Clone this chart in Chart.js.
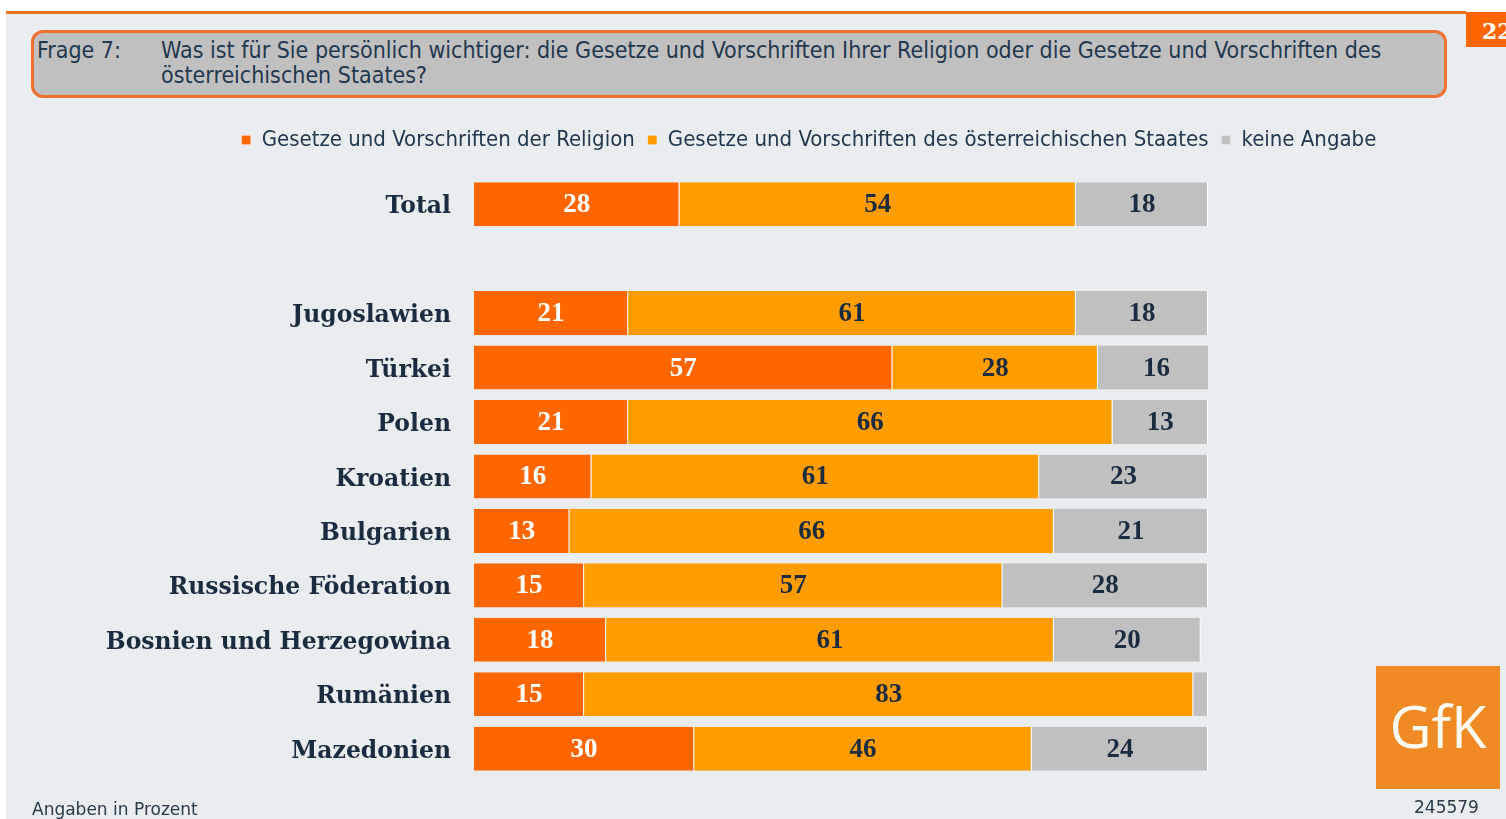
<!DOCTYPE html>
<html>
<head>
<meta charset="utf-8">
<script src="https://cdn.jsdelivr.net/npm/chart.js"></script>
<style>
  html, body { margin: 0; padding: 0; }
  body { width: 1506px; height: 819px; background: #fff; position: relative; overflow: hidden; font-family: "DejaVu Sans Condensed", sans-serif; }
  #page { position: absolute; left: 6px; top: 13px; width: 1500px; height: 806px; background: #e9edf0; }
  #topline { position: absolute; left: 6px; top: 11px; width: 1460px; height: 3px; background: #f07020; }
  #pagenum { position: absolute; left: 1466px; top: 12px; width: 50px; height: 35px; background: #ff6600; color: #fff; font: bold 22px "DejaVu Serif", serif; line-height: 38px; padding-left: 16px; box-sizing: border-box; }
  #question { position: absolute; left: 31px; top: 30px; width: 1416px; height: 68px; box-sizing: border-box; background: #c0c0c0; border: 3px solid #f07030; border-radius: 12px; color: #23384e; font-size: 23px; line-height: 25px; }
  #question .lbl { position: absolute; left: 3px; top: 5px; }
  #question .txt { position: absolute; left: 127px; top: 5px; width: 1280px; }
  #wrap { position: absolute; left: 100px; top: 116px; width: 1418px; height: 689px; }
  #logo { position: absolute; left: 1376px; top: 666px; width: 124px; height: 123px; background: #f08a24; color: #fffaf0; font: 58px "Open Sans", "DejaVu Sans", sans-serif; text-align: center; line-height: 120px; }
  #foot { position: absolute; left: 32px; top: 799px; color: #2a3a4a; font: 17px "DejaVu Sans", sans-serif; }
  #code { position: absolute; left: 1414px; top: 797px; color: #2a3a4a; font: 17px "DejaVu Sans", sans-serif; }
</style>
</head>
<body>
<div id="page"></div>
<div id="topline"></div>
<div id="pagenum">22</div>
<div id="question">
  <span class="lbl">Frage 7:</span>
  <span class="txt">Was ist für Sie persönlich wichtiger: die Gesetze und Vorschriften Ihrer Religion oder die Gesetze und Vorschriften des österreichischen Staates?</span>
</div>
<div id="wrap"><canvas id="chart" width="1418" height="689"></canvas></div>
<div id="logo">GfK</div>
<div id="foot">Angaben in Prozent</div>
<div id="code">245579</div>

<script>
const categories = ["Total", "", "Jugoslawien", "Türkei", "Polen", "Kroatien", "Bulgarien",
  "Russische Föderation", "Bosnien und Herzegowina", "Rumänien", "Mazedonien"];
const religion = [28, null, 21, 57, 21, 16, 13, 15, 18, 15, 30];
const staat    = [54, null, 61, 28, 66, 61, 66, 57, 61, 83, 46];
const keine    = [18, null, 18, 16, 13, 23, 21, 28, 20, 2, 24];
const seriesNames = ["Gesetze und Vorschriften der Religion",
  "Gesetze und Vorschriften des österreichischen Staates", "keine Angabe"];
const colors = ["#ff6600", "#ff9c00", "#c0c0c0"];
const labelColors = ["#ffffff", "#1c2c40", "#1c2c40"];

// draws the numbers inside the segments
const valueLabels = {
  id: "valueLabels",
  afterDatasetsDraw(chart) {
    const ctx = chart.ctx;
    ctx.save();
    ctx.font = "bold 27px 'Liberation Serif', serif";
    ctx.textAlign = "center";
    ctx.textBaseline = "middle";
    chart.data.datasets.forEach((ds, i) => {
      const meta = chart.getDatasetMeta(i);
      meta.data.forEach((bar, j) => {
        const v = ds.data[j];
        if (v == null || v < 5) return;
        ctx.fillStyle = labelColors[i];
        ctx.fillText(v, (bar.x + bar.base) / 2, bar.y + 1);
      });
    });
    ctx.restore();
  }
};

new Chart(document.getElementById("chart"), {
  type: "bar",
  data: {
    labels: categories,
    datasets: [religion, staat, keine].map((d, i) => ({
      label: seriesNames[i],
      data: d,
      backgroundColor: colors[i],
      borderColor: "#ffffff",
      borderWidth: { left: 0, top: 0, bottom: 0, right: 1 },
      borderSkipped: false,
      categoryPercentage: 1,
      barPercentage: 0.81
    }))
  },
  options: {
    indexAxis: "y",
    responsive: false,
    animation: false,
    layout: { padding: 0 },
    plugins: {
      tooltip: { enabled: false },
      legend: {
        position: "top",
        labels: {
          boxWidth: 9,
          boxHeight: 9,
          padding: 13,
          color: "#23384e",
          font: { size: 22, family: "'DejaVu Sans Condensed', sans-serif" }
        }
      }
    },
    scales: {
      x: {
        stacked: true,
        min: 0,
        max: 100,
        position: "top",
        grid: { display: false },
        border: { display: false },
        ticks: { display: false },
        afterFit(scale) { scale.height = 16; }
      },
      y: {
        stacked: true,
        grid: { display: false },
        border: { display: false },
        afterFit(scale) { scale.width = 374; },
        ticks: {
          color: "#1c2c40",
          padding: 15,
          labelOffset: 3,
          font: { size: 23.5, weight: "bold", family: "'DejaVu Serif', serif" }
        }
      },
      // empty right-hand space, keeps the legend centred on the whole slide
      y2: {
        type: "linear",
        position: "right",
        grid: { display: false },
        border: { display: false },
        ticks: { display: false },
        afterFit(scale) { scale.width = 310; }
      }
    }
  },
  plugins: [valueLabels]
});
</script>
</body>
</html>
